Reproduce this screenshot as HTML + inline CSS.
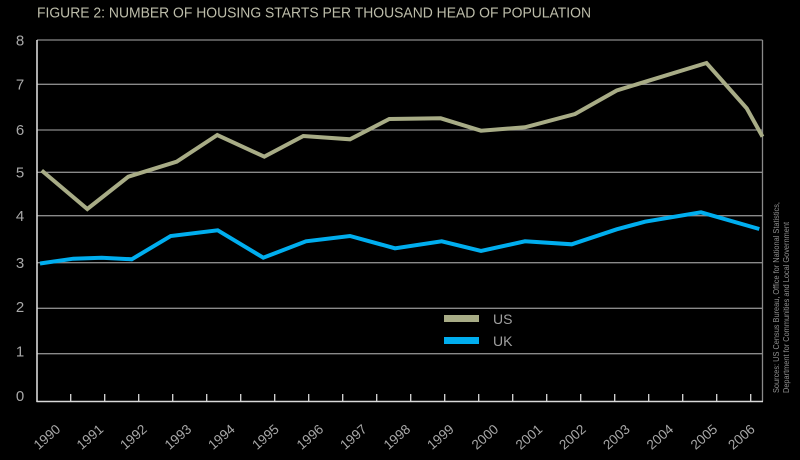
<!DOCTYPE html>
<html><head><meta charset="utf-8"><style>
html,body{margin:0;padding:0;background:#000;}
svg{display:block;}
text{font-family:"Liberation Sans",sans-serif;}
</style></head><body>
<svg width="800" height="460" viewBox="0 0 800 460" xmlns="http://www.w3.org/2000/svg">
<rect x="0" y="0" width="800" height="460" fill="#000"/>
<text x="37" y="17.5" font-size="14.5" fill="#bdbdaa" textLength="554" lengthAdjust="spacingAndGlyphs">FIGURE 2: NUMBER OF HOUSING STARTS PER THOUSAND HEAD OF POPULATION</text>
<g stroke="#8a8a8a" stroke-width="1.3" fill="none">
<line x1="37" y1="40" x2="762.5" y2="40"/>
<line x1="37" y1="84.3" x2="762.5" y2="84.3"/>
<line x1="37" y1="130" x2="762.5" y2="130"/>
<line x1="37" y1="172.3" x2="762.5" y2="172.3"/>
<line x1="37" y1="215.7" x2="762.5" y2="215.7"/>
<line x1="37" y1="262.7" x2="762.5" y2="262.7"/>
<line x1="37" y1="308.3" x2="762.5" y2="308.3"/>
<line x1="37" y1="353.7" x2="762.5" y2="353.7"/>
<line x1="762.5" y1="40" x2="762.5" y2="401.5"/>
</g>
<g stroke="#d8d8d8" stroke-width="1.6" fill="none">
<line x1="37" y1="40" x2="37" y2="402"/>
<line x1="36.5" y1="401.5" x2="763" y2="401.5"/>
</g>
<g stroke="#d8d8d8" stroke-width="1.3">
<line x1="70.7" y1="394" x2="70.7" y2="401"/><line x1="104.7" y1="394" x2="104.7" y2="401"/><line x1="138.7" y1="394" x2="138.7" y2="401"/><line x1="172.7" y1="394" x2="172.7" y2="401"/><line x1="206.7" y1="394" x2="206.7" y2="401"/><line x1="240.7" y1="394" x2="240.7" y2="401"/><line x1="274.7" y1="394" x2="274.7" y2="401"/><line x1="308.7" y1="394" x2="308.7" y2="401"/><line x1="342.7" y1="394" x2="342.7" y2="401"/><line x1="376.7" y1="394" x2="376.7" y2="401"/><line x1="410.7" y1="394" x2="410.7" y2="401"/><line x1="444.7" y1="394" x2="444.7" y2="401"/><line x1="478.7" y1="394" x2="478.7" y2="401"/><line x1="512.7" y1="394" x2="512.7" y2="401"/><line x1="546.7" y1="394" x2="546.7" y2="401"/><line x1="580.7" y1="394" x2="580.7" y2="401"/><line x1="614.7" y1="394" x2="614.7" y2="401"/><line x1="648.7" y1="394" x2="648.7" y2="401"/><line x1="682.7" y1="394" x2="682.7" y2="401"/><line x1="716.7" y1="394" x2="716.7" y2="401"/><line x1="750.7" y1="394" x2="750.7" y2="401"/>
</g>
<g font-size="15" fill="#a8a8a8" text-anchor="middle">
<text x="20" y="45.5">8</text>
<text x="20" y="89.5">7</text>
<text x="20" y="135">6</text>
<text x="20" y="177.5">5</text>
<text x="20" y="221">4</text>
<text x="20" y="268">3</text>
<text x="20" y="312">2</text>
<text x="20" y="356.5">1</text>
<text x="20" y="401">0</text>
</g>
<g font-size="13.5" fill="#a8a8a8" text-anchor="middle" dominant-baseline="central">
<text transform="translate(47,437) rotate(-41)">1990</text>
<text transform="translate(90,437) rotate(-41)">1991</text>
<text transform="translate(133.5,437) rotate(-41)">1992</text>
<text transform="translate(178,437) rotate(-41)">1993</text>
<text transform="translate(221.5,437) rotate(-41)">1994</text>
<text transform="translate(265.5,437) rotate(-41)">1995</text>
<text transform="translate(310,437) rotate(-41)">1996</text>
<text transform="translate(353.5,437) rotate(-41)">1997</text>
<text transform="translate(397,437) rotate(-41)">1998</text>
<text transform="translate(440.5,437) rotate(-41)">1999</text>
<text transform="translate(485,437) rotate(-41)">2000</text>
<text transform="translate(529,437) rotate(-41)">2001</text>
<text transform="translate(572.5,437) rotate(-41)">2002</text>
<text transform="translate(616.5,437) rotate(-41)">2003</text>
<text transform="translate(660,437) rotate(-41)">2004</text>
<text transform="translate(704,437) rotate(-41)">2005</text>
<text transform="translate(741.5,437) rotate(-41)">2006</text>
</g>
<polyline fill="none" stroke="#a8ac86" stroke-width="4" stroke-linejoin="miter" points="41.7,170.5 87.3,209 128.3,176.7 176.7,161.7 217.3,135 264.3,156.7 303.3,136 350,139.3 389.3,119 440.7,118.3 481,130.7 525,127.3 575,114 616.7,90.5 706.5,63 746.7,108.3 762.5,136.7"/>
<polyline fill="none" stroke="#00aeef" stroke-width="4" stroke-linejoin="miter" points="40,263.5 73.3,258.7 101.7,257.7 131.7,259.3 170.7,236 217.7,230.3 263.3,257.7 306,241.3 350,236 395,248.3 441.7,241.3 481,251 525,241.3 571.7,244.3 616.7,229.3 645,221.7 701,212.3 759.3,229"/>
<rect x="444" y="315" width="35" height="7" fill="#a8ac86"/>
<rect x="444" y="337" width="35" height="7" fill="#00aeef"/>
<g font-size="14" fill="#a0a0a0">
<text x="493" y="324">US</text>
<text x="493" y="346">UK</text>
</g>
<g font-size="8.2" fill="#909090">
<text transform="translate(779,393) rotate(-90)" textLength="191" lengthAdjust="spacingAndGlyphs">Sources: US Census Bureau, Office for National Statistics,</text>
<text transform="translate(789,393) rotate(-90)" textLength="171" lengthAdjust="spacingAndGlyphs">Department for Communities and Local Government</text>
</g>
</svg>
</body></html>
